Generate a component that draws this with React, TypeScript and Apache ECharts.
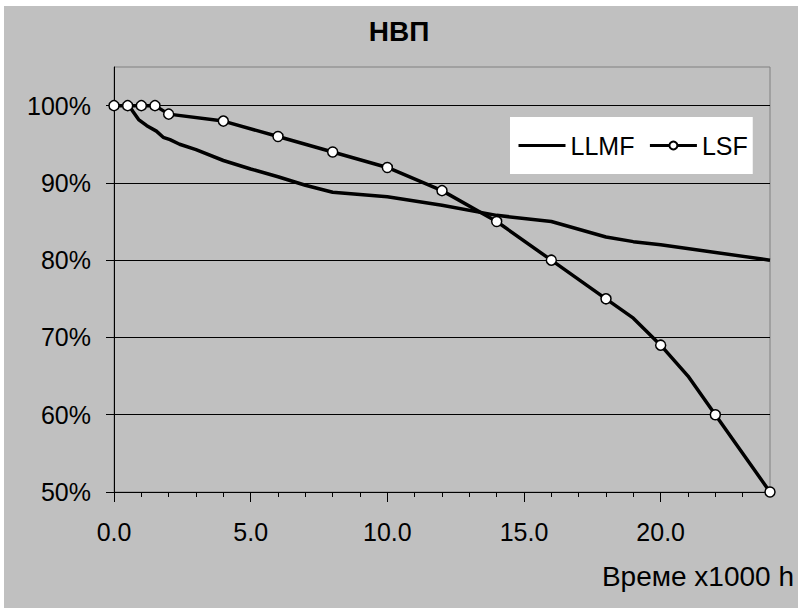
import React, { useEffect, useRef } from "react";
import * as echarts from "echarts";

const TITLE = "НВП";
const X_NAME = "Време x1000 h";
const SERIES_NAMES = ["LLMF", "LSF"];

// LLMF: [time x1000 h, %]
const llmfX = [0.55, 0.7, 0.9, 1.2, 1.55, 1.8, 2.05, 2.4, 3, 4, 5, 6, 7, 8, 10, 12, 14, 16, 18, 19, 20, 24];
const llmfY = [100, 99.2, 98.2, 97.4, 96.7, 95.9, 95.6, 95.0, 94.3, 92.9, 91.8, 90.8, 89.7, 88.8, 88.2, 87.1, 85.8, 85.0, 83.0, 82.4, 82.0, 80.0];

// LSF: [time x1000 h, %], marker flags
const lsfX = [0, 0.5, 1, 1.5, 2, 4, 6, 8, 10, 12, 14, 16, 18, 19, 20, 21, 22, 24];
const lsfY = [100, 100, 100, 100, 98.9, 98, 96, 94, 92, 89, 85, 80, 75, 72.5, 69, 65, 60, 50];
const lsfMarked = [1, 1, 1, 1, 1, 1, 1, 1, 1, 1, 1, 1, 1, 0, 1, 0, 1, 1];

const xTicks = [0, 5, 10, 15, 20];
const yTicks = [50, 60, 70, 80, 90, 100];

const FONT = "'Liberation Sans', Arial, sans-serif";

export default function App() {
  const ref = useRef<HTMLDivElement>(null);
  useEffect(() => {
    if (!ref.current) return;
    const chart = echarts.init(ref.current, undefined, { renderer: "svg" });
    const option: any = {
      animation: false,
      backgroundColor: "#ffffff",
      textStyle: { fontFamily: FONT, color: "#000" },
      graphic: [
        {
          type: "rect",
          z: -10,
          silent: true,
          shape: { x: 4, y: 6, width: 794, height: 602 },
          style: { fill: "#c0c0c0" },
        },
        {
          type: "text",
          right: 4,
          top: 562,
          style: { text: X_NAME, font: `28px ${FONT}`, fill: "#000" },
        },
      ],
      title: {
        text: TITLE,
        left: "center",
        top: 17,
        padding: 0,
        textStyle: { fontSize: 28, fontWeight: "bold", color: "#000", fontFamily: FONT },
      },
      legend: {
        left: 510,
        top: 117,
        orient: "horizontal",
        backgroundColor: "#ffffff",
        padding: [16, 5, 16, 7],
        itemGap: 14,
        itemWidth: 47,
        itemHeight: 10,
        lineStyle: { width: 3, color: "#000" },
        textStyle: { fontSize: 25, color: "#000", fontFamily: FONT },
        data: [
          { name: SERIES_NAMES[0], itemStyle: { color: "rgba(0,0,0,0)", borderWidth: 0 } },
          { name: SERIES_NAMES[1] },
        ],
      },
      grid: {
        left: 114,
        top: 67,
        right: 28,
        bottom: 117,
        show: true,
        borderColor: "#808080",
        borderWidth: 1,
        backgroundColor: "transparent",
      },
      xAxis: {
        type: "value",
        min: 0,
        max: 24,
        interval: 5,
        axisLine: { show: true, lineStyle: { color: "#000", width: 1 } },
        axisTick: { show: true, length: 10, customValues: xTicks, lineStyle: { color: "#000" } },
        minorTick: { show: true, splitNumber: 5, length: 5, lineStyle: { color: "#000" } },
        splitLine: { show: false },
        axisLabel: {
          customValues: xTicks,
          margin: 27,
          fontSize: 25,
          color: "#000",
          fontFamily: FONT,
          formatter: (v: number) => v.toFixed(1),
        },
      },
      yAxis: {
        type: "value",
        min: 50,
        max: 105,
        interval: 10,
        axisLine: { show: true, lineStyle: { color: "#000", width: 1 } },
        axisTick: { show: true, length: 8, customValues: yTicks, lineStyle: { color: "#000" } },
        splitLine: {
          show: true,
          lineStyle: { color: ["#000", "#000", "#000", "#000", "#000", "#000", "#808080"], width: 1 },
        },
        axisLabel: {
          customValues: yTicks,
          margin: 23,
          fontSize: 25,
          color: "#000",
          fontFamily: FONT,
          formatter: "{value}%",
        },
      },
      series: [
        {
          name: SERIES_NAMES[0],
          type: "line",
          showSymbol: false,
          symbol: "none",
          lineStyle: { color: "#000", width: 3.5 },
          itemStyle: { color: "#000" },
          data: llmfX.map((x, i) => [x, llmfY[i]]),
          z: 2,
        },
        {
          name: SERIES_NAMES[1],
          type: "line",
          symbol: "circle",
          symbolSize: 10,
          lineStyle: { color: "#000", width: 3.5 },
          itemStyle: { color: "#ffffff", borderColor: "#000", borderWidth: 1.5 },
          data: lsfX.map((x, i) =>
            lsfMarked[i] ? { value: [x, lsfY[i]] } : { value: [x, lsfY[i]], symbol: "none" }
          ),
          z: 3,
        },
      ],
    };
    chart.setOption(option);
    return () => chart.dispose();
  }, []);
  return (
    <div
      ref={ref}
      style={{ position: "fixed", left: 0, top: 0, width: 798, height: 609 }}
    />
  );
}
